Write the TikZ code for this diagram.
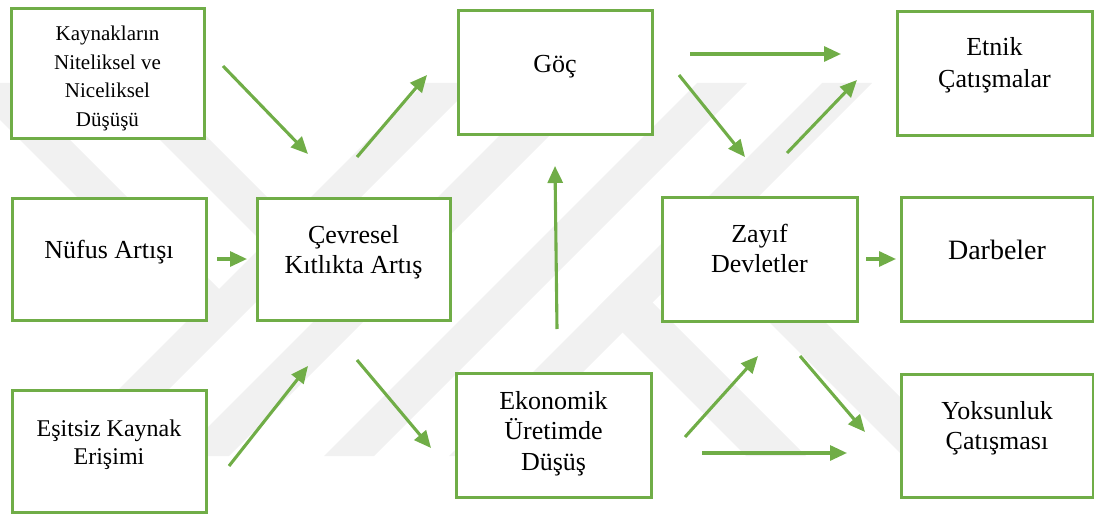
\documentclass[tikz,border=0pt]{standalone}
\usepackage{fontspec}
\setmainfont{Liberation Serif}
\usetikzlibrary{arrows.meta}

\definecolor{boxgreen}{HTML}{70AD47}
\definecolor{wmgray}{HTML}{F1F1F1}

% top aligned text in a box: width, height, first baseline, text
\newcommand{\boxtext}[4]{\parbox[c][#2pt][t]{#1pt}{\centering\rule{0pt}{#3pt}#4}}

\tikzset{
    box/.style={draw=boxgreen, line width=3pt, fill=white, inner sep=0pt, outer sep=0pt,
        font=\fontsize{26}{30}\selectfont},
    arr/.style={draw=boxgreen, line width=3.1pt, -{Triangle[length=17pt,width=15pt]}},
    wm/.style={fill=wmgray}
}

\begin{document}
\begin{tikzpicture}[x=1pt, y=-1pt]
    \useasboundingbox (0,0) rectangle (1094,516);

    % watermark in the background
    \begin{scope}
        \clip (0,83) rectangle (1094,456);
        \foreach \a in {508,635,780,905}
            \fill[wm] (\a-83,83) -- (\a-33,83) -- (\a-406,456) -- (\a-456,456) -- cycle;
        \fill[wm] (-37,83) -- (13,83) -- (242.5,312.5) -- (217.5,337.5) -- cycle;
        \fill[wm] (103,83) -- (153,83) -- (312.5,242.5) -- (287.5,267.5) -- cycle;
        \fill[wm] (627.5,277.5) -- (806,456) -- (746,456) -- (597.5,307.5) -- cycle;
        \fill[wm] (704,201) -- (959,456) -- (903,456) -- (676,229) -- cycle;
    \end{scope}

    % boxes
    \node[box, font=\fontsize{21}{28.5}\selectfont] (kaynak) at (107.5,73.5)
        {\boxtext{193}{129}{32}{Kaynakların\\Niteliksel ve\\Niceliksel\\Düşüşü}};
    \node[box] (nufus) at (109,259) {\boxtext{194}{122}{60}{Nüfus Artışı}};
    \node[box, font=\fontsize{24}{28}\selectfont] (esitsiz) at (109,451)
        {\boxtext{194}{122}{46}{Eşitsiz Kaynak\\Erişimi}};
    \node[box] (cevre) at (353.5,259) {\boxtext{193}{122}{45}{Çevresel\\Kıtlıkta Artış}};
    \node[box] (goc) at (555,72.5) {\boxtext{194}{123}{62}{Göç}};
    \node[box, font=\fontsize{26}{30.5}\selectfont] (ekonomik) at (553.5,435)
        {\boxtext{195}{124}{36}{Ekonomik\\Üretimde\\Düşüş}};
    \node[box] (zayif) at (759.5,259) {\boxtext{195}{124}{45}{Zayıf\\Devletler}};
    \node[box, font=\fontsize{26}{32}\selectfont] (etnik) at (994.5,73.5)
        {\boxtext{195}{123}{44}{Etnik\\Çatışmalar}};
    \node[box, font=\fontsize{28}{32}\selectfont] (darbe) at (997,259)
        {\boxtext{192}{124}{62}{Darbeler}};
    \node[box] (yoksun) at (997,435.5) {\boxtext{192}{123}{45}{Yoksunluk\\Çatışması}};

    % arrow ends
    \coordinate (kay-out) at (223,66);
    \coordinate (cev-in1) at (308,154);
    \coordinate (nuf-out) at (217,259);
    \coordinate (cev-in2) at (247,259);
    \coordinate (esi-out) at (229,466);
    \coordinate (cev-in3) at (308,366);
    \coordinate (cev-out1) at (357,157);
    \coordinate (goc-in1) at (427,75);
    \coordinate (cev-out2) at (357,360);
    \coordinate (eko-in) at (431,448);
    \coordinate (eko-out1) at (557,329);
    \coordinate (goc-in2) at (555,166);
    \coordinate (goc-out1) at (690,54);
    \coordinate (etn-in1) at (841,54);
    \coordinate (goc-out2) at (679,75);
    \coordinate (zay-in1) at (745,157);
    \coordinate (zay-out1) at (787,153);
    \coordinate (etn-in2) at (857,80);
    \coordinate (zay-out2) at (866,259);
    \coordinate (dar-in) at (896,259);
    \coordinate (eko-out2) at (685,437);
    \coordinate (zay-in2) at (758,356);
    \coordinate (eko-out3) at (702,453);
    \coordinate (yok-in1) at (847,453);
    \coordinate (zay-out3) at (800,356);
    \coordinate (yok-in2) at (865,432);

    % arrows
    \draw[arr] (kay-out) -- (cev-in1);
    \draw[arr] (nuf-out) -- (cev-in2);
    \draw[arr] (esi-out) -- (cev-in3);
    \draw[arr] (cev-out1) -- (goc-in1);
    \draw[arr] (cev-out2) -- (eko-in);
    \draw[arr] (eko-out1) -- (goc-in2);
    \draw[arr] (goc-out1) -- (etn-in1);
    \draw[arr] (goc-out2) -- (zay-in1);
    \draw[arr] (zay-out1) -- (etn-in2);
    \draw[arr] (zay-out2) -- (dar-in);
    \draw[arr] (eko-out2) -- (zay-in2);
    \draw[arr] (eko-out3) -- (yok-in1);
    \draw[arr] (zay-out3) -- (yok-in2);

\end{tikzpicture}
\end{document}
